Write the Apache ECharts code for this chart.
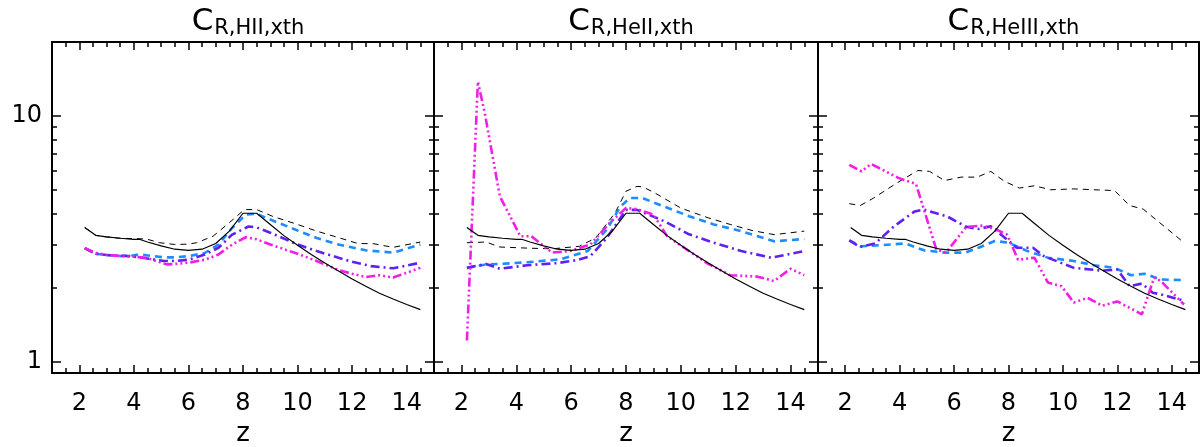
<!DOCTYPE html>
<html><head><meta charset="utf-8">
<script src="https://cdn.jsdelivr.net/npm/echarts@6/dist/echarts.min.js"></script>
<style>html,body{margin:0;padding:0;background:#fff}#c{width:1201px;height:447px}</style>
</head><body><div id="c"></div>
<script>
// ---------- data ----------
const panelSubs = ['R,HII,xth', 'R,HeII,xth', 'R,HeIII,xth'];
const xMajorTicks = [2, 4, 6, 8, 10, 12, 14];
const xMinorTicks = [1.5, 2.5, 3, 3.5, 4.5, 5, 5.5, 6.5, 7, 7.5, 8.5, 9, 9.5, 10.5, 11, 11.5, 12.5, 13, 13.5, 14.5];
const yMajorTicks = [1, 10];
const yMinorTicks = [2, 3, 4, 5, 6, 7, 8, 9, 20];

// black solid reference curve (same in all panels)
const solidRef = [[2.2,3.52],[2.6,3.27],[3.0,3.22],[3.5,3.18],[4.0,3.15],[4.2,3.15],[4.5,3.07],[5.0,2.96],[5.5,2.87],[6.0,2.84],[6.5,2.87],[7.0,3.03],[7.5,3.4],[8.0,4.02],[8.5,4.02],[9.0,3.62],[9.5,3.26],[10.0,2.98],[10.5,2.73],[11.0,2.52],[11.5,2.34],[12.0,2.17],[12.5,2.03],[13.0,1.9],[13.5,1.8],[14.0,1.71],[14.5,1.63]];

// panel 1 : C_R,HII,xth
const p1Dashed = [[2.2,3.52],[2.6,3.27],[3.0,3.22],[3.5,3.18],[4.0,3.17],[4.45,3.16],[4.95,3.05],[5.5,3.0],[6.0,3.01],[6.3,3.05],[6.9,3.24],[7.5,3.68],[8.05,4.16],[8.5,4.16],[9.1,3.9],[10.0,3.62],[10.7,3.4],[11.5,3.2],[12.2,3.03],[12.8,3.02],[13.5,2.92],[14.5,3.07]];
const p1Blue = [[2.2,2.9],[2.6,2.75],[3.0,2.72],[3.5,2.69],[4.0,2.71],[4.2,2.74],[4.6,2.7],[5.1,2.66],[5.5,2.66],[6.0,2.69],[6.6,2.77],[7.1,3.0],[7.6,3.5],[8.1,3.97],[8.5,4.0],[9.0,3.79],[10.0,3.42],[10.7,3.19],[11.5,3.0],[12.5,2.84],[13.5,2.78],[14.5,3.0]];
const p1Purple = [[2.2,2.9],[2.6,2.75],[3.0,2.72],[3.85,2.69],[4.3,2.65],[5.1,2.57],[5.5,2.57],[6.0,2.6],[6.6,2.73],[7.1,2.91],[7.6,3.29],[8.2,3.55],[8.5,3.52],[9.0,3.35],[10.0,3.0],[10.7,2.82],[11.5,2.65],[12.0,2.55],[12.7,2.45],[13.5,2.4],[14.5,2.53]];
const p1Magenta = [[2.2,2.9],[2.6,2.77],[3.0,2.72],[3.85,2.68],[4.45,2.65],[5.2,2.49],[5.5,2.5],[6.0,2.53],[6.6,2.6],[7.1,2.73],[7.6,3.0],[8.1,3.21],[8.5,3.15],[9.0,3.0],[10.0,2.75],[10.7,2.57],[11.5,2.36],[12.0,2.28],[12.5,2.21],[13.0,2.25],[13.5,2.2],[14.5,2.41]];

// panel 2 : C_R,HeII,xth
const p2Dashed = [[2.2,3.05],[2.9,3.07],[3.4,2.93],[4.4,2.9],[5.3,2.88],[6.3,2.95],[6.9,3.19],[7.6,4.03],[8.0,4.94],[8.4,5.17],[8.6,5.15],[9.0,4.9],[10.0,4.22],[11.0,3.85],[11.8,3.62],[12.6,3.42],[13.4,3.29],[14.5,3.4]];
const p2Blue = [[2.2,2.41],[2.9,2.49],[3.4,2.5],[4.4,2.54],[5.6,2.61],[6.6,2.82],[7.3,3.45],[7.8,4.29],[8.15,4.64],[8.6,4.64],[9.0,4.45],[10.3,3.91],[11.2,3.62],[12.2,3.4],[13.4,3.09],[14.5,3.16]];
const p2Purple = [[2.2,2.41],[2.9,2.5],[3.4,2.39],[4.4,2.47],[5.5,2.52],[6.2,2.59],[6.7,2.69],[7.3,3.19],[8.0,4.15],[8.4,4.15],[9.4,3.73],[10.3,3.3],[11.2,3.05],[12.2,2.82],[13.3,2.65],[14.5,2.82]];
const p2Magenta = [[2.2,1.22],[2.6,13.8],[2.85,10.3],[3.4,4.71],[4.15,3.24],[4.55,3.24],[5.3,2.78],[5.95,2.82],[6.7,3.0],[7.4,3.67],[8.0,4.22],[8.4,4.18],[9.0,3.97],[9.5,3.24],[10.3,2.82],[11.0,2.5],[11.8,2.25],[12.8,2.22],[13.4,2.13],[14.0,2.39],[14.5,2.25]];

// panel 3 : C_R,HeIII,xth
const p3Dashed = [[2.15,4.4],[2.55,4.32],[3.05,4.64],[3.9,5.34],[4.67,6.0],[5.1,5.95],[5.65,5.46],[6.25,5.64],[6.85,5.64],[7.35,5.95],[7.85,5.42],[8.4,5.09],[8.95,5.2],[9.55,5.01],[10.4,5.05],[11.9,4.97],[12.45,4.32],[12.95,4.18],[14.45,3.05]];
const p3Blue = [[2.15,3.12],[2.55,2.95],[3.1,2.97],[4.2,3.03],[4.9,2.84],[5.65,2.78],[6.4,2.78],[6.9,2.91],[7.5,3.1],[8.0,3.05],[8.7,2.82],[9.45,2.65],[10.4,2.57],[11.15,2.47],[11.9,2.41],[12.5,2.25],[13.0,2.28],[13.6,2.16],[14.45,2.15]];
const p3Purple = [[2.15,3.12],[2.55,2.93],[3.1,3.03],[3.8,3.56],[4.55,4.09],[4.9,4.16],[5.75,3.9],[6.45,3.54],[6.9,3.47],[7.35,3.56],[7.95,3.14],[8.3,2.91],[8.9,2.91],[9.3,2.69],[10.4,2.41],[11.4,2.35],[12.0,2.37],[12.45,2.03],[12.9,2.08],[13.3,1.91],[13.6,1.88],[14.45,1.77]];
const p3Magenta = [[2.15,6.33],[2.6,5.95],[2.95,6.38],[3.95,5.6],[4.6,5.29],[5.35,2.86],[5.7,2.78],[6.45,3.54],[7.05,3.58],[7.55,3.45],[7.95,3.29],[8.35,2.6],[8.95,2.65],[9.45,2.1],[9.95,2.03],[10.4,1.74],[10.9,1.82],[11.45,1.69],[12.0,1.76],[12.9,1.56],[13.35,2.2],[13.6,2.13],[14.45,1.71]];

const panelSeries = [
  [p1Dashed, p1Blue, p1Purple, p1Magenta],
  [p2Dashed, p2Blue, p2Purple, p2Magenta],
  [p3Dashed, p3Blue, p3Purple, p3Magenta]
];

// ---------- layout / styles ----------
const FONT = 'DejaVu Sans';
const grids = [
  {left: 52, top: 42, width: 382, height: 331, outerBoundsMode: 'none', containLabel: false},
  {left: 434, top: 42, width: 384, height: 331, outerBoundsMode: 'none', containLabel: false},
  {left: 818, top: 42, width: 381, height: 331, outerBoundsMode: 'none', containLabel: false}
];
const styles = [
  {color: '#000000', width: 1, type: [6, 5]},
  {color: '#1e8cff', width: 2.6, type: [7, 5]},
  {color: '#6120f2', width: 2.6, type: [9, 4, 2, 4]},
  {color: '#f21ee6', width: 2.6, type: [9, 3, 2, 3, 2, 3, 2, 3]}
];
const solidStyle = {color: '#000000', width: 1.2, type: 'solid'};

const xAxes = [], yAxes = [], series = [], titles = [];
const tickLine = {color: '#000', width: 1.5};
grids.forEach((g, i) => {
  const xb = {type: 'value', gridIndex: i, min: 1, max: 15, splitLine: {show: false},
    axisLine: {onZero: false, lineStyle: {color: '#000', width: 2}}};
  xAxes.push(Object.assign({}, xb, {position: 'bottom',
    axisTick: {inside: true, length: 8, customValues: xMajorTicks, lineStyle: tickLine},
    axisLabel: {customValues: xMajorTicks, fontSize: 24, color: '#000', fontFamily: FONT, margin: 19},
    name: 'z', nameLocation: 'middle', nameGap: 45,
    nameTextStyle: {fontSize: 26, color: '#000', fontFamily: FONT}}));
  xAxes.push(Object.assign({}, xb, {position: 'bottom', axisLine: {show: false, onZero: false},
    axisTick: {inside: true, length: 5, customValues: xMinorTicks, lineStyle: tickLine},
    axisLabel: {show: false}}));
  xAxes.push(Object.assign({}, xb, {position: 'top',
    axisTick: {inside: true, length: 8, customValues: xMajorTicks, lineStyle: tickLine},
    axisLabel: {show: false}}));
  xAxes.push(Object.assign({}, xb, {position: 'top', axisLine: {show: false, onZero: false},
    axisTick: {inside: true, length: 5, customValues: xMinorTicks, lineStyle: tickLine},
    axisLabel: {show: false}}));

  const yb = {type: 'log', logBase: 10, gridIndex: i, min: 0.9, max: 20, splitLine: {show: false},
    axisLine: {onZero: false, lineStyle: {color: '#000', width: 2}}};
  yAxes.push(Object.assign({}, yb, {position: 'left',
    axisTick: {inside: true, length: 9, customValues: yMajorTicks, lineStyle: tickLine},
    axisLabel: i === 0 ? {customValues: yMajorTicks, fontSize: 24, color: '#000', fontFamily: FONT, margin: 10}
                       : {show: false}}));
  yAxes.push(Object.assign({}, yb, {position: 'left', axisLine: {show: false, onZero: false},
    axisTick: {inside: true, length: 5, customValues: yMinorTicks, lineStyle: tickLine},
    axisLabel: {show: false}}));
  yAxes.push(Object.assign({}, yb, {position: 'right',
    axisTick: {inside: true, length: 9, customValues: yMajorTicks, lineStyle: tickLine},
    axisLabel: {show: false}}));
  yAxes.push(Object.assign({}, yb, {position: 'right', axisLine: {show: false, onZero: false},
    axisTick: {inside: true, length: 5, customValues: yMinorTicks, lineStyle: tickLine},
    axisLabel: {show: false}}));

  panelSeries[i].forEach((d, k) => {
    series.push({type: 'line', xAxisIndex: i * 4, yAxisIndex: i * 4, data: d,
      symbol: 'none', silent: true, animation: false, lineStyle: styles[k], z: 2 + k});
  });
  series.push({type: 'line', xAxisIndex: i * 4, yAxisIndex: i * 4, data: solidRef,
    symbol: 'none', silent: true, animation: false, lineStyle: solidStyle, z: 7});

  titles.push({text: '{c|C}{s|' + panelSubs[i] + '}', left: g.left + g.width / 2, top: 1, textAlign: 'center',
    textStyle: {fontWeight: 'normal', rich: {
      c: {fontSize: 31, fontFamily: FONT, fontWeight: 'normal', color: '#000', lineHeight: 26, verticalAlign: 'top'},
      s: {fontSize: 21, fontFamily: FONT, fontWeight: 'normal', color: '#000', lineHeight: 21, padding: [12, 0, 0, 1], verticalAlign: 'top'}
    }}});
});

const chart = echarts.init(document.getElementById('c'), null, {renderer: 'canvas'});
chart.setOption({
  backgroundColor: '#ffffff',
  animation: false,
  title: titles,
  grid: grids,
  xAxis: xAxes,
  yAxis: yAxes,
  series: series
});
</script></body></html>
